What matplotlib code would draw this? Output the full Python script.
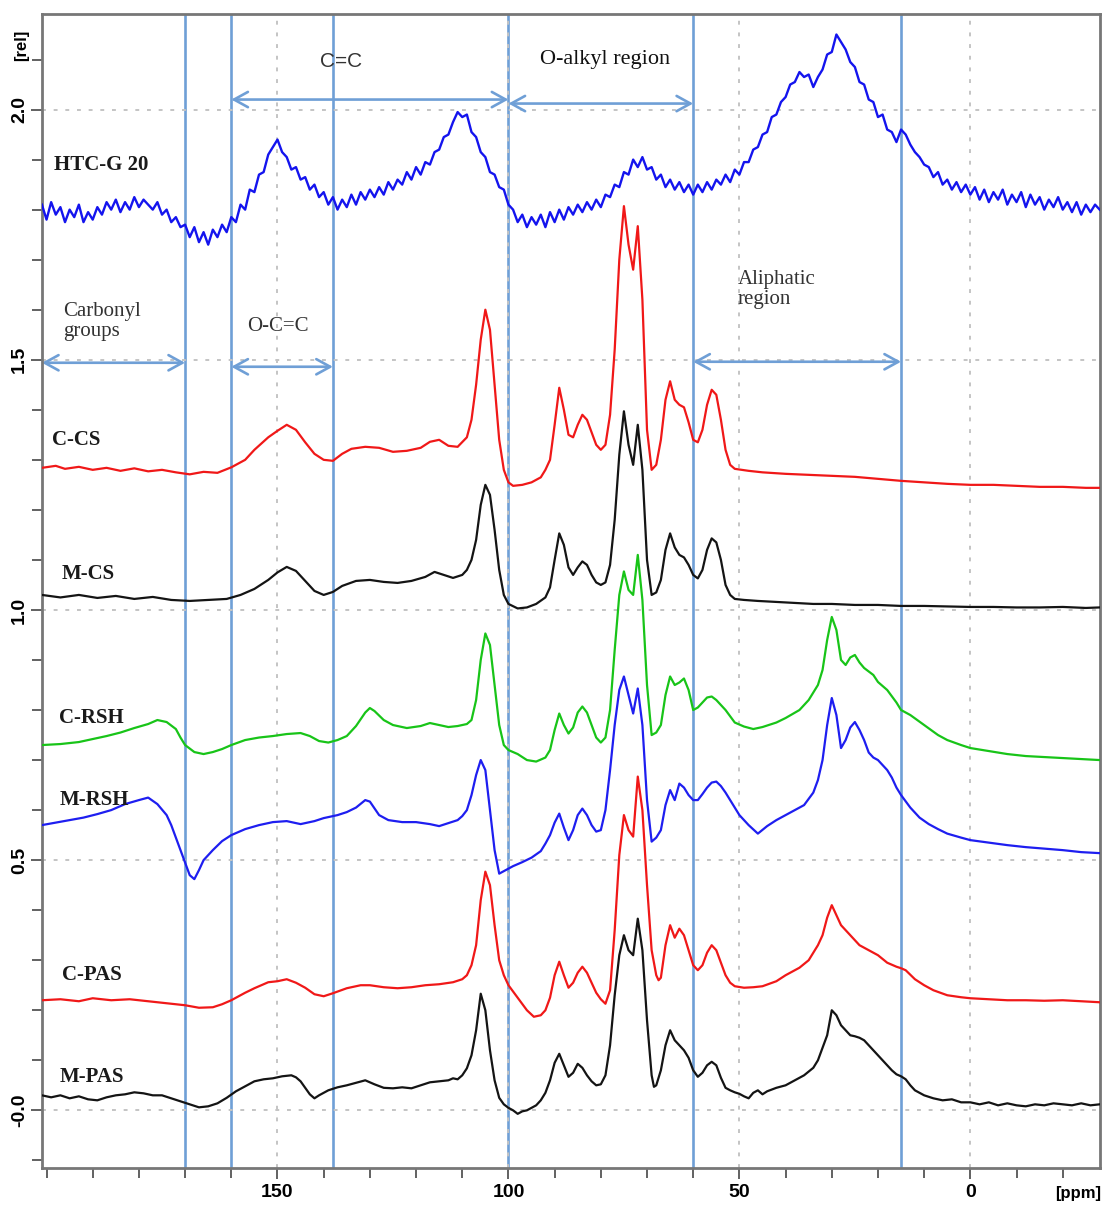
import numpy as np
import matplotlib
matplotlib.use("Agg")
import matplotlib.pyplot as plt
from matplotlib.ticker import MultipleLocator, FixedLocator

# 13C CP/MAS NMR spectra, stacked with vertical offsets (ppm, rel. intensity)

# HTC-G 20, one point per ppm from 201 down to -28
htc_ppm = np.arange(201, -29, -1)
htc_int = [
    1.81, 1.78, 1.815, 1.79, 1.805, 1.775, 1.80, 1.785, 1.81, 1.775,
    1.795, 1.78, 1.805, 1.79, 1.815, 1.80, 1.82, 1.795, 1.815, 1.80,
    1.825, 1.805, 1.82, 1.81, 1.80, 1.815, 1.79, 1.80, 1.775, 1.785,
    1.765, 1.77, 1.745, 1.765, 1.735, 1.755, 1.73, 1.76, 1.745, 1.77,
    1.755, 1.785, 1.775, 1.81, 1.80, 1.84, 1.835, 1.87, 1.875, 1.91,
    1.925, 1.94, 1.915, 1.905, 1.88, 1.885, 1.86, 1.865, 1.84, 1.85,
    1.825, 1.835, 1.81, 1.825, 1.80, 1.82, 1.805, 1.83, 1.81, 1.835,
    1.82, 1.84, 1.825, 1.845, 1.83, 1.855, 1.84, 1.86, 1.85, 1.875,
    1.86, 1.885, 1.87, 1.895, 1.89, 1.915, 1.92, 1.945, 1.95, 1.975,
    1.995, 1.985, 1.99, 1.955, 1.945, 1.915, 1.905, 1.875, 1.87, 1.845,
    1.84, 1.81, 1.80, 1.775, 1.79, 1.765, 1.785, 1.77, 1.79, 1.765,
    1.795, 1.775, 1.80, 1.78, 1.805, 1.79, 1.81, 1.795, 1.815, 1.80,
    1.82, 1.805, 1.83, 1.825, 1.85, 1.845, 1.875, 1.87, 1.90, 1.885,
    1.905, 1.88, 1.885, 1.86, 1.87, 1.845, 1.86, 1.84, 1.855, 1.835,
    1.85, 1.83, 1.85, 1.835, 1.855, 1.84, 1.86, 1.85, 1.87, 1.855,
    1.88, 1.87, 1.895, 1.895, 1.92, 1.925, 1.95, 1.955, 1.985, 1.99,
    2.015, 2.025, 2.05, 2.055, 2.075, 2.065, 2.07, 2.045, 2.065, 2.08,
    2.11, 2.115, 2.15, 2.135, 2.12, 2.095, 2.085, 2.055, 2.05, 2.02,
    2.015, 1.985, 1.99, 1.96, 1.955, 1.935, 1.96, 1.95, 1.93, 1.915,
    1.905, 1.89, 1.885, 1.865, 1.875, 1.85, 1.86, 1.84, 1.855, 1.835,
    1.85, 1.83, 1.845, 1.82, 1.84, 1.815, 1.835, 1.82, 1.84, 1.81,
    1.83, 1.815, 1.835, 1.805, 1.83, 1.81, 1.825, 1.80, 1.82, 1.805,
    1.825, 1.80, 1.815, 1.795, 1.815, 1.79, 1.81, 1.795, 1.81, 1.80,
]

c_cs = [
    (201, 1.284), (198, 1.288), (196, 1.282), (193, 1.286), (190, 1.280), (187, 1.284),
    (184, 1.278), (181, 1.283), (178, 1.277), (175, 1.280), (172, 1.275), (169, 1.271),
    (166, 1.276), (163, 1.274), (160, 1.285), (157, 1.300), (155, 1.320), (152, 1.345),
    (150, 1.358), (148, 1.370), (146, 1.360), (144, 1.335), (142, 1.312), (140, 1.300),
    (138, 1.298), (136, 1.312), (134, 1.322), (131, 1.326), (128, 1.324), (125, 1.316),
    (122, 1.318), (119, 1.324), (117, 1.336), (115, 1.340), (113, 1.328), (111, 1.326),
    (109, 1.345), (108, 1.38), (107, 1.45), (106, 1.54), (105, 1.60), (104, 1.56),
    (103, 1.45), (102, 1.34), (101, 1.28), (100, 1.255), (99, 1.248), (97, 1.250),
    (95, 1.255), (93, 1.265), (92, 1.28), (91, 1.30), (90, 1.37), (89, 1.444),
    (88, 1.40), (87, 1.35), (86, 1.345), (85, 1.37), (84, 1.39), (83, 1.38),
    (82, 1.355), (81, 1.33), (80, 1.32), (79, 1.33), (78, 1.39), (77, 1.52),
    (76, 1.70), (75, 1.807), (74, 1.73), (73, 1.68), (72, 1.767), (71, 1.62),
    (70, 1.36), (69, 1.28), (68, 1.29), (67, 1.34), (66, 1.42), (65, 1.457),
    (64, 1.42), (63, 1.41), (62, 1.405), (61, 1.375), (60, 1.34), (59, 1.335),
    (58, 1.36), (57, 1.41), (56, 1.44), (55, 1.43), (54, 1.38), (53, 1.32),
    (52, 1.29), (51, 1.282), (48, 1.278), (45, 1.275), (40, 1.272), (35, 1.270),
    (30, 1.268), (25, 1.266), (20, 1.262), (15, 1.258), (10, 1.255), (5, 1.252),
    (0, 1.250), (-5, 1.250), (-10, 1.248), (-15, 1.246), (-20, 1.246), (-25, 1.244),
    (-28, 1.244),
]

m_cs = [
    (201, 1.030), (197, 1.025), (193, 1.030), (189, 1.024), (185, 1.028), (181, 1.022),
    (177, 1.026), (173, 1.020), (169, 1.018), (165, 1.020), (161, 1.022), (158, 1.030),
    (155, 1.042), (152, 1.060), (150, 1.075), (148, 1.086), (146, 1.078), (144, 1.058),
    (142, 1.038), (140, 1.030), (138, 1.036), (136, 1.048), (133, 1.058), (130, 1.060),
    (127, 1.056), (124, 1.054), (121, 1.058), (118, 1.066), (116, 1.076), (114, 1.070),
    (112, 1.064), (110, 1.070), (109, 1.080), (108, 1.100), (107, 1.140), (106, 1.210),
    (105, 1.250), (104, 1.230), (103, 1.160), (102, 1.080), (101, 1.030), (100, 1.012),
    (98, 1.003), (96, 1.005), (94, 1.012), (92, 1.025), (91, 1.045), (90, 1.100),
    (89, 1.153), (88, 1.130), (87, 1.085), (86, 1.070), (85, 1.085), (84, 1.097),
    (83, 1.090), (82, 1.070), (81, 1.055), (80, 1.050), (79, 1.055), (78, 1.090),
    (77, 1.180), (76, 1.310), (75, 1.397), (74, 1.330), (73, 1.290), (72, 1.370),
    (71, 1.280), (70, 1.100), (69, 1.030), (68, 1.035), (67, 1.060), (66, 1.120),
    (65, 1.153), (64, 1.125), (63, 1.110), (62, 1.105), (61, 1.090), (60, 1.070),
    (59, 1.063), (58, 1.080), (57, 1.120), (56, 1.143), (55, 1.135), (54, 1.100),
    (53, 1.050), (52, 1.030), (51, 1.022), (49, 1.020), (46, 1.018), (42, 1.016),
    (38, 1.014), (34, 1.012), (30, 1.012), (25, 1.010), (20, 1.010), (15, 1.008),
    (10, 1.008), (5, 1.007), (0, 1.006), (-5, 1.006), (-10, 1.005), (-15, 1.005),
    (-20, 1.006), (-25, 1.004), (-28, 1.005),
]

c_rsh = [
    (201, 0.730), (197, 0.732), (193, 0.736), (190, 0.742), (187, 0.748), (184, 0.755),
    (181, 0.764), (178, 0.772), (176, 0.780), (174, 0.776), (172, 0.762), (171, 0.745),
    (170, 0.730), (168, 0.716), (166, 0.712), (164, 0.716), (162, 0.722), (160, 0.730),
    (157, 0.740), (154, 0.745), (151, 0.748), (148, 0.752), (145, 0.754), (143, 0.748),
    (141, 0.738), (139, 0.735), (137, 0.740), (135, 0.748), (133, 0.768), (131, 0.795),
    (130, 0.804), (129, 0.798), (127, 0.780), (125, 0.770), (122, 0.764), (119, 0.768),
    (117, 0.774), (115, 0.770), (113, 0.766), (111, 0.768), (109, 0.772), (108, 0.780),
    (107, 0.820), (106, 0.900), (105, 0.953), (104, 0.930), (103, 0.850), (102, 0.770),
    (101, 0.730), (100, 0.720), (98, 0.712), (96, 0.700), (94, 0.697), (92, 0.705),
    (91, 0.720), (90, 0.760), (89, 0.793), (88, 0.770), (87, 0.753), (86, 0.765),
    (85, 0.795), (84, 0.807), (83, 0.795), (82, 0.770), (81, 0.745), (80, 0.735),
    (79, 0.745), (78, 0.800), (77, 0.920), (76, 1.030), (75, 1.077), (74, 1.040),
    (73, 1.030), (72, 1.110), (71, 1.020), (70, 0.850), (69, 0.750), (68, 0.755),
    (67, 0.770), (66, 0.830), (65, 0.867), (64, 0.850), (63, 0.855), (62, 0.863),
    (61, 0.840), (60, 0.800), (59, 0.805), (58, 0.815), (57, 0.825), (56, 0.827),
    (55, 0.820), (53, 0.800), (51, 0.775), (49, 0.767), (47, 0.762), (45, 0.766),
    (42, 0.775), (40, 0.784), (37, 0.800), (35, 0.820), (33, 0.850), (32, 0.880),
    (31, 0.940), (30, 0.986), (29, 0.960), (28, 0.900), (27, 0.890), (26, 0.905),
    (25, 0.910), (24, 0.895), (23, 0.884), (21, 0.870), (20, 0.856), (18, 0.840),
    (16, 0.815), (15, 0.800), (13, 0.790), (10, 0.770), (7, 0.750), (5, 0.740),
    (2, 0.730), (0, 0.724), (-4, 0.718), (-8, 0.712), (-12, 0.708), (-16, 0.706),
    (-20, 0.704), (-24, 0.702), (-28, 0.700),
]

m_rsh = [
    (201, 0.570), (198, 0.575), (195, 0.580), (192, 0.585), (189, 0.592), (186, 0.600),
    (183, 0.612), (180, 0.620), (178, 0.625), (176, 0.612), (174, 0.590), (173, 0.570),
    (172, 0.545), (171, 0.520), (170, 0.495), (169, 0.470), (168, 0.462), (167, 0.480),
    (166, 0.500), (164, 0.520), (162, 0.538), (160, 0.550), (157, 0.562), (154, 0.570),
    (151, 0.576), (148, 0.578), (145, 0.572), (142, 0.578), (140, 0.584), (137, 0.590),
    (135, 0.596), (133, 0.605), (131, 0.620), (130, 0.617), (128, 0.590), (126, 0.580),
    (123, 0.576), (120, 0.576), (117, 0.572), (115, 0.568), (113, 0.574), (111, 0.580),
    (110, 0.588), (109, 0.600), (108, 0.630), (107, 0.670), (106, 0.700), (105, 0.680),
    (104, 0.600), (103, 0.520), (102, 0.473), (101, 0.478), (99, 0.488), (97, 0.496),
    (95, 0.505), (93, 0.518), (92, 0.533), (91, 0.550), (90, 0.575), (89, 0.593),
    (88, 0.565), (87, 0.540), (86, 0.560), (85, 0.590), (84, 0.603), (83, 0.590),
    (82, 0.570), (81, 0.557), (80, 0.560), (79, 0.600), (78, 0.680), (77, 0.770),
    (76, 0.840), (75, 0.867), (74, 0.830), (73, 0.793), (72, 0.843), (71, 0.770),
    (70, 0.620), (69, 0.537), (68, 0.545), (67, 0.560), (66, 0.610), (65, 0.640),
    (64, 0.620), (63, 0.653), (62, 0.645), (61, 0.630), (60, 0.620), (59, 0.620),
    (58, 0.632), (57, 0.645), (56, 0.655), (55, 0.657), (54, 0.648), (53, 0.635),
    (52, 0.620), (50, 0.590), (48, 0.570), (46, 0.553), (44, 0.568), (42, 0.580),
    (40, 0.590), (38, 0.600), (36, 0.610), (34, 0.635), (33, 0.660), (32, 0.700),
    (31, 0.770), (30, 0.824), (29, 0.790), (28, 0.724), (27, 0.740), (26, 0.765),
    (25, 0.776), (24, 0.760), (23, 0.740), (22, 0.715), (21, 0.705), (20, 0.700),
    (19, 0.690), (18, 0.680), (17, 0.665), (16, 0.645), (15, 0.630), (13, 0.605),
    (11, 0.585), (9, 0.572), (7, 0.562), (5, 0.553), (2, 0.545), (0, 0.540),
    (-4, 0.535), (-8, 0.530), (-12, 0.526), (-16, 0.523), (-20, 0.520), (-24, 0.516),
    (-28, 0.514),
]

c_pas = [
    (201, 0.220), (197, 0.222), (193, 0.218), (190, 0.224), (186, 0.220), (182, 0.222),
    (178, 0.218), (174, 0.214), (170, 0.210), (167, 0.205), (164, 0.206), (162, 0.212),
    (160, 0.220), (157, 0.235), (155, 0.244), (152, 0.256), (150, 0.258), (148, 0.262),
    (146, 0.255), (144, 0.245), (142, 0.232), (140, 0.228), (138, 0.234), (135, 0.244),
    (132, 0.250), (130, 0.250), (127, 0.246), (124, 0.244), (121, 0.246), (118, 0.250),
    (115, 0.252), (112, 0.256), (110, 0.262), (109, 0.270), (108, 0.290), (107, 0.330),
    (106, 0.420), (105, 0.477), (104, 0.450), (103, 0.370), (102, 0.300), (101, 0.270),
    (100, 0.250), (98, 0.225), (96, 0.200), (94.5, 0.187), (93, 0.190), (92, 0.200),
    (91, 0.225), (90, 0.270), (89, 0.297), (88, 0.270), (87, 0.245), (86, 0.255),
    (85, 0.275), (84, 0.287), (83, 0.275), (82, 0.255), (81, 0.235), (80, 0.222),
    (79, 0.213), (78, 0.240), (77, 0.360), (76, 0.510), (75, 0.590), (74, 0.560),
    (73, 0.547), (72, 0.667), (71, 0.600), (70, 0.450), (69, 0.320), (68, 0.270),
    (67.5, 0.260), (67, 0.265), (66, 0.330), (65, 0.370), (64, 0.345), (63, 0.363),
    (62, 0.350), (61, 0.320), (60, 0.290), (59, 0.280), (58, 0.290), (57, 0.315),
    (56, 0.330), (55, 0.320), (54, 0.295), (53, 0.270), (52, 0.255), (51, 0.248),
    (49, 0.245), (47, 0.246), (45, 0.248), (42, 0.258), (40, 0.270), (37, 0.285),
    (35, 0.300), (33, 0.330), (32, 0.350), (31, 0.385), (30, 0.410), (29, 0.390),
    (28, 0.370), (27, 0.360), (26, 0.350), (24, 0.330), (22, 0.320), (20, 0.310),
    (18, 0.295), (16, 0.287), (15, 0.284), (14, 0.280), (12, 0.262), (10, 0.250),
    (8, 0.240), (5, 0.230), (2, 0.226), (0, 0.224), (-4, 0.222), (-8, 0.220),
    (-12, 0.220), (-16, 0.219), (-20, 0.220), (-24, 0.218), (-28, 0.216),
]

m_pas = [
    (201, 0.030), (199, 0.026), (197, 0.030), (195, 0.024), (193, 0.028), (191, 0.022),
    (189, 0.020), (187, 0.026), (185, 0.030), (183, 0.032), (181, 0.036), (179, 0.034),
    (177, 0.030), (175, 0.030), (173, 0.024), (171, 0.018), (169, 0.012), (167, 0.006),
    (165, 0.008), (163, 0.014), (161, 0.025), (159, 0.038), (157, 0.048), (155, 0.058),
    (153, 0.062), (151, 0.064), (149, 0.068), (147, 0.070), (146, 0.066), (145, 0.058),
    (144, 0.045), (143, 0.032), (142, 0.024), (141, 0.030), (139, 0.040), (137, 0.046),
    (135, 0.050), (133, 0.055), (131, 0.060), (129, 0.052), (127, 0.045), (125, 0.044),
    (123, 0.046), (121, 0.044), (119, 0.050), (117, 0.056), (115, 0.058), (113, 0.060),
    (112, 0.064), (111, 0.062), (110, 0.070), (109, 0.084), (108, 0.110), (107, 0.160),
    (106, 0.233), (105, 0.200), (104, 0.120), (103, 0.060), (102, 0.025), (101, 0.012),
    (100, 0.005), (99, 0.000), (98, -0.007), (97, -0.002), (96, 0.000), (95, 0.005),
    (94, 0.010), (93, 0.020), (92, 0.035), (91, 0.060), (90, 0.095), (89, 0.113),
    (88, 0.090), (87, 0.067), (86, 0.075), (85, 0.093), (84, 0.085), (83, 0.070),
    (82, 0.058), (81, 0.050), (80, 0.052), (79, 0.070), (78, 0.130), (77, 0.230),
    (76, 0.310), (75, 0.350), (74, 0.320), (73, 0.310), (72, 0.383), (71, 0.320),
    (70, 0.180), (69, 0.070), (68.5, 0.047), (68, 0.050), (67, 0.080), (66, 0.130),
    (65, 0.160), (64, 0.140), (63, 0.130), (62, 0.120), (61, 0.105), (60, 0.080),
    (59, 0.067), (58, 0.075), (57, 0.090), (56, 0.097), (55, 0.090), (54, 0.065),
    (53, 0.045), (52, 0.040), (51, 0.036), (50, 0.033), (49, 0.028), (48, 0.024),
    (47, 0.035), (46, 0.040), (45, 0.032), (44, 0.038), (42, 0.045), (40, 0.050),
    (38, 0.060), (36, 0.070), (34, 0.085), (33, 0.100), (32, 0.125), (31, 0.150),
    (30, 0.200), (29, 0.190), (28, 0.170), (27, 0.160), (26, 0.150), (25, 0.148),
    (24, 0.145), (23, 0.140), (22, 0.130), (21, 0.120), (20, 0.110), (19, 0.100),
    (18, 0.090), (17, 0.080), (16, 0.072), (15, 0.068), (14, 0.062), (13, 0.050),
    (12, 0.040), (10, 0.030), (8, 0.024), (6, 0.020), (4, 0.022), (2, 0.016),
    (0, 0.016), (-2, 0.012), (-4, 0.016), (-6, 0.010), (-8, 0.014), (-10, 0.010),
    (-12, 0.008), (-14, 0.012), (-16, 0.010), (-18, 0.014), (-20, 0.012), (-22, 0.010),
    (-24, 0.014), (-26, 0.010), (-28, 0.012),
]

# sample names and where they sit (ppm, rel)
sample_names = ["HTC-G 20", "C-CS", "M-CS", "C-RSH", "M-RSH", "C-PAS", "M-PAS"]
sample_label_pos = [(198.4, 1.89), (198.9, 1.34), (196.7, 1.072), (197.2, 0.784),
                    (197.2, 0.62), (196.7, 0.27), (197.2, 0.066)]

# region boundaries (ppm) and double arrows (ppm from, ppm to, rel)
region_bounds = [170, 160, 138, 100, 60, 15]
region_arrows = [(201, 170, 1.494), (160, 138, 1.486), (160, 100, 2.02),
                 (100, 60, 2.012), (60, 15, 1.496)]

x_ticks = [150, 100, 50, 0]
y_ticks = [0.0, 0.5, 1.0, 1.5, 2.0]
y_tick_labels = ["-0.0", "0.5", "1.0", "1.5", "2.0"]

blue_line = "#6f9fd6"
serif = ["Liberation Serif", "DejaVu Serif"]
narrow = ["Liberation Sans Narrow", "Liberation Sans", "DejaVu Sans"]

fig = plt.figure(figsize=(11.03, 12.07), dpi=100)
ax = fig.add_axes([0.038, 0.032, 0.959, 0.956])

for x in region_bounds:
    ax.axvline(x, color=blue_line, lw=1.9, zorder=1)

ax.plot(htc_ppm, htc_int, color="#1414ee", lw=1.7, zorder=3)
spectra = [(c_cs, "#f01818"), (m_cs, "#141414"), (c_rsh, "#18c418"),
           (m_rsh, "#1e1ef0"), (c_pas, "#f01818"), (m_pas, "#141414")]
for data, col in spectra:
    p, v = zip(*data)
    ax.plot(p, v, color=col, lw=1.6, zorder=3)

for x0, x1, y in region_arrows:
    ax.annotate("", xy=(x1, y), xytext=(x0, y),
                arrowprops=dict(arrowstyle="<->,head_length=1.0,head_width=0.55",
                                color=blue_line, lw=1.9, shrinkA=0, shrinkB=0),
                zorder=2)

ax.text(136.3, 2.096, "C=C", fontsize=15, family=narrow, color="#333333",
        ha="center", va="center")
ax.text(79.0, 2.10, "O-alkyl region", fontsize=16, family=serif, color="#111111",
        ha="center", va="center")
ax.text(196.3, 1.576, "Carbonyl\ngroups", fontsize=15, family=serif, color="#333333",
        ha="left", va="center", linespacing=1.05)
ax.text(149.9, 1.566, "O-C=C", fontsize=15, family=serif, color="#333333",
        ha="center", va="center")
ax.text(50.3, 1.64, "Aliphatic\nregion", fontsize=15, family=serif, color="#333333",
        ha="left", va="center", linespacing=1.05)

for name, (x, y) in zip(sample_names, sample_label_pos):
    ax.text(x, y, name, fontsize=15, family=serif, fontweight="bold",
            color="#1a1a1a", ha="left", va="center")

ax.set_xlim(201, -28)
ax.set_ylim(-0.116, 2.19)

ax.xaxis.set_major_locator(FixedLocator(x_ticks))
ax.xaxis.set_minor_locator(MultipleLocator(10))
ax.yaxis.set_minor_locator(MultipleLocator(0.1))
ax.grid(which="major", color="#c4c4c4", linestyle=(0, (2, 4)), lw=1.4, zorder=0)

ax.tick_params(axis="both", which="both", direction="out", color="#555555",
               width=1.3)
ax.tick_params(axis="both", which="major", length=8)
ax.tick_params(axis="both", which="minor", length=7)
ax.tick_params(axis="x", pad=3)
ax.tick_params(axis="y", pad=2)

ax.set_xticks(x_ticks)
ax.set_xticklabels([str(t) for t in x_ticks], fontsize=14, fontweight="bold",
                   family=narrow)
ax.set_yticks(y_ticks)
ax.set_yticklabels(y_tick_labels, rotation=90, va="center",
                   fontsize=14, fontweight="bold", family=narrow)

for s in ax.spines.values():
    s.set_color("#777777")
    s.set_linewidth(2)

fig.text(0.020, 0.962, "[rel]", rotation=90, fontsize=12, fontweight="bold",
         family=narrow, ha="center", va="center")
fig.text(0.998, 0.011, "[ppm]", fontsize=12, fontweight="bold", family=narrow,
         ha="right", va="center")

fig.savefig("out.png", dpi=100)
